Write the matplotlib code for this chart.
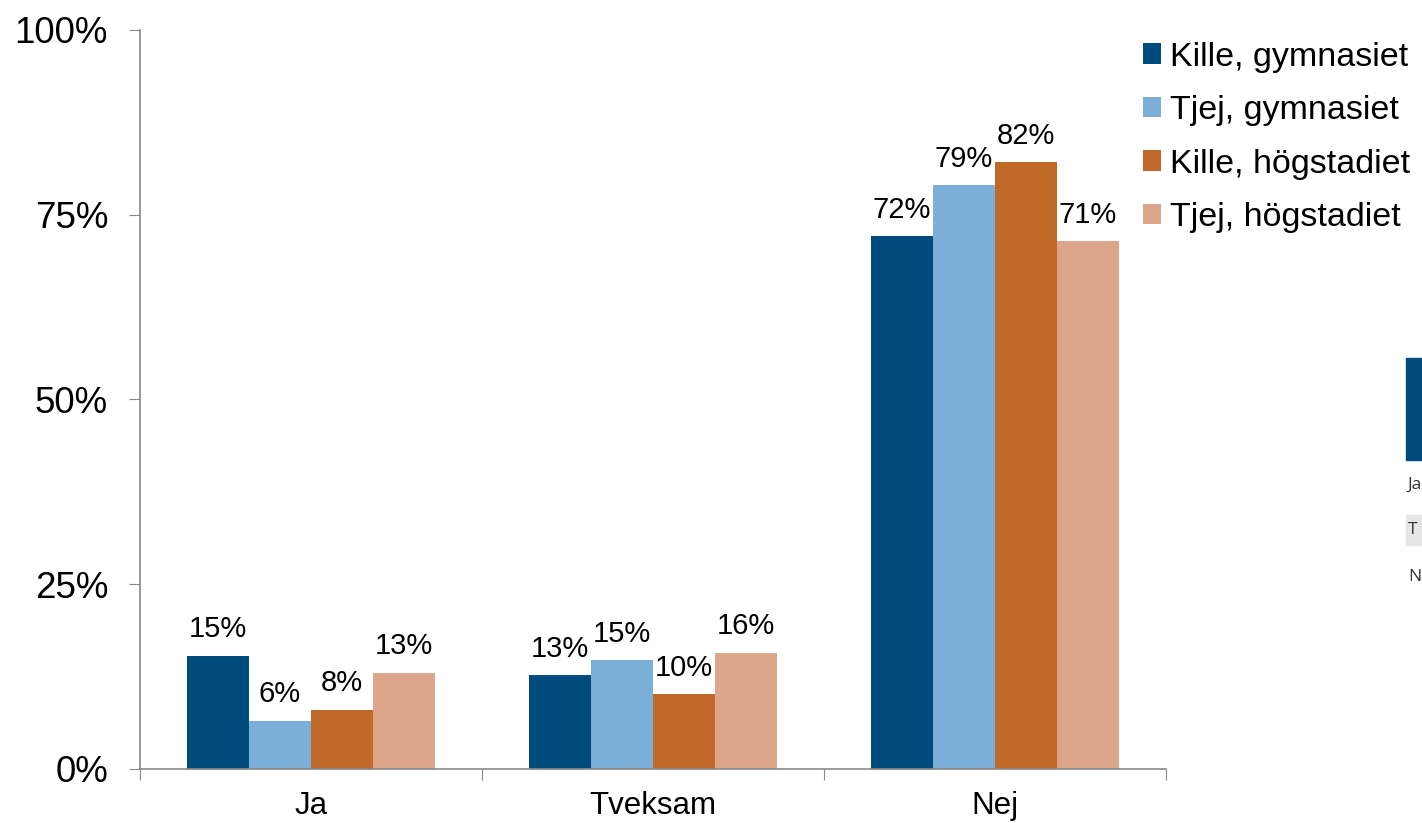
import matplotlib
matplotlib.use("Agg")
import matplotlib.pyplot as plt
from matplotlib.patches import Patch, Rectangle
import numpy as np

plt.rcParams['font.family'] = ['Liberation Sans', 'DejaVu Sans']

categories = ["Ja", "Tveksam", "Nej"]
series = ["Kille, gymnasiet", "Tjej, gymnasiet", "Kille, högstadiet", "Tjej, högstadiet"]
kille_gym = [15.3, 12.7, 72.1]
tjej_gym = [6.5, 14.7, 79.0]
kille_hog = [8.0, 10.1, 82.1]
tjej_hog = [13.0, 15.7, 71.4]
values = [kille_gym, tjej_gym, kille_hog, tjej_hog]
colors = ["#004B7D", "#7BAFD8", "#C06828", "#DDA58A"]
yticks = [0, 25, 50, 75, 100]
ytick_labels = ["0%", "25%", "50%", "75%", "100%"]

W, H = 1422, 823
fig = plt.figure(figsize=(W / 100, H / 100), dpi=100)
ax = fig.add_axes([140 / W, (H - 769) / H, 1026 / W, 739 / H])

x = np.arange(len(categories))
bw = 0.1815
for i, (vals, c) in enumerate(zip(values, colors)):
    pos = x + (i - 1.5) * bw
    ax.bar(pos, vals, width=bw, color=c, label=series[i])
    for p, v in zip(pos, vals):
        ax.annotate(f"{round(v):.0f}%", (p, v), xytext=(0, 9), textcoords="offset points",
                    ha="center", va="bottom", fontsize=21)

ax.set_xlim(-0.5, 2.5)
ax.set_ylim(0, 100)
ax.set_yticks(yticks)
ax.set_yticklabels(ytick_labels, fontsize=26.5)
ax.set_xticks([-0.5, 0.5, 1.5, 2.5])
ax.set_xticklabels([])
ax.set_xticks(x, minor=True)
ax.set_xticklabels(categories, minor=True, fontsize=22.5)
ax.tick_params(axis='x', which='minor', length=0, pad=16)
ax.tick_params(axis='x', which='major', length=8, color='#888888', direction='out')
ax.tick_params(axis='y', length=8, color='#888888', direction='out', pad=15)
for s in ['top', 'right']:
    ax.spines[s].set_visible(False)
for s in ['left', 'bottom']:
    ax.spines[s].set_color('#888888')
    ax.spines[s].set_linewidth(1.2)

handles = [Patch(facecolor=c, edgecolor='none') for c in colors]
fig.legend(handles, series, loc='upper left', bbox_to_anchor=(1129 / W, 1 - 28 / H),
           frameon=False, fontsize=24.5, handlelength=0.55, handleheight=0.55,
           handletextpad=0.25, labelspacing=0.66, borderaxespad=0)

# cut-off elements at right edge
fig.patches.append(Rectangle((1406 / W, 1 - 460 / H), 16 / W, 102 / H,
                             transform=fig.transFigure, color="#004B7D"))
fig.patches.append(Rectangle((1406 / W, 1 - 545 / H), 16 / W, 30 / H,
                             transform=fig.transFigure, color="#E6E6E6"))
fig.text(1407 / W, 1 - 485 / H, "Ja", fontsize=12.5, va='center', ha='left',
         family='Open Sans', color='#333333')
fig.text(1408 / W, 1 - 530 / H, "T", fontsize=12.5, va='center', ha='left',
         family='Open Sans', color='#333333')
fig.text(1408 / W, 1 - 577 / H, "N", fontsize=12.5, va='center', ha='left',
         family='Open Sans', color='#333333')

fig.savefig("out.png", dpi=100)
